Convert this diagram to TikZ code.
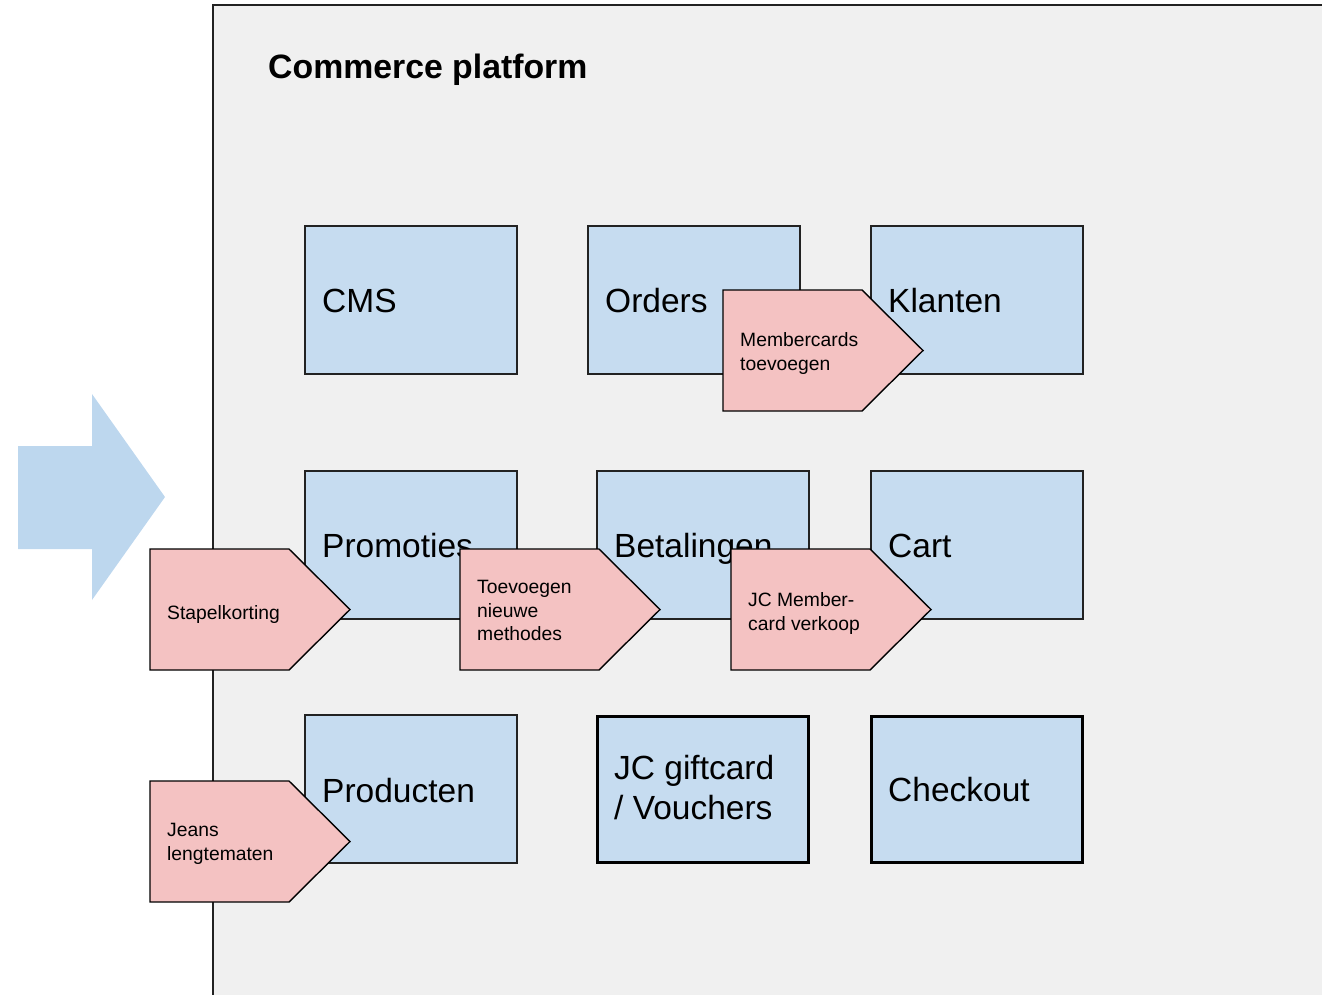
\documentclass[tikz,border=0pt]{standalone}
\usepackage{fontspec}
\setmainfont{Liberation Sans}
\definecolor{boxblue}{RGB}{198,220,240}
\definecolor{arrowblue}{RGB}{189,215,238}
\definecolor{pinkc}{RGB}{244,194,194}
\definecolor{platgray}{RGB}{240,240,240}
\definecolor{edge}{RGB}{34,34,34}
\begin{document}
\begin{tikzpicture}[x=1pt,y=-1pt,
  box/.style={draw=edge, line width=1.4pt, fill=boxblue, anchor=north west,
    minimum width=212pt, minimum height=148pt, inner sep=0pt, outer sep=0pt},
  thickbox/.style={box, draw=black, line width=3pt, minimum width=211pt, minimum height=146.5pt},
  pent/.style={draw=black, line width=1.4pt, fill=pinkc, line join=miter},
  big/.style={anchor=north west, inner sep=0pt, align=left,
    font=\fontsize{33.5}{40}\selectfont, execute at begin node=\strut},
  small/.style={anchor=north west, inner sep=0pt, align=left,
    font=\fontsize{19.3}{23.5}\selectfont, execute at begin node=\strut},
  ttl/.style={anchor=north west, inner sep=0pt,
    font=\fontsize{33.8}{38}\selectfont\bfseries, execute at begin node=\strut},
  pics/tag/.style={code={\draw[pent] (0,0) -- (139,0) -- (200,60.5) -- (139,121) -- (0,121) -- cycle;}}
]
\useasboundingbox (0,0) rectangle (1322,995);
\clip (0,0) rectangle (1322,995);

% big arrow
\fill[arrowblue] (18,446) -- (92,446) -- (92,394) -- (165,497) -- (92,600) -- (92,549) -- (18,549) -- cycle;

% platform
\fill[platgray] (213,5) rectangle (1340,1010);
\draw[line width=2pt, edge] (213,1010) -- (213,5) -- (1340,5);
\node[ttl] (title) at (268,51.5) {Commerce platform};

% boxes
\node[box] (cms) at (305,226) {};
\node[box] (orders) at (588,226) {};
\node[box] (klanten) at (871,226) {};
\node[box] (promoties) at (305,471) {};
\node[box] (betalingen) at (597,471) {};
\node[box] (cart) at (871,471) {};
\node[box] (producten) at (305,715) {};
\node[thickbox] (gift) at (597.5,716) {};
\node[thickbox] (checkout) at (871.5,716) {};

\node[big] (cmsT) at (322,284) {CMS};
\node[big] (ordersT) at (605,284) {Orders};
\node[big] (klantenT) at (888,284) {Klanten};
\node[big] (promotiesT) at (322,529) {Promoties};
\node[big] (betalingenT) at (614,529) {Betalingen};
\node[big] (cartT) at (888,529) {Cart};
\node[big] (productenT) at (322,774) {Producten};
\node[big] (giftT) at (614,755) {JC giftcard\\/ Vouchers};
\node[big] (checkoutT) at (888,773) {Checkout};

% tags
\pic at (723,290) {tag};
\pic at (150,549) {tag};
\pic at (460,549) {tag};
\pic at (731,549) {tag};
\pic at (150,781) {tag};

\node[small] (memb) at (740,332.5) {Membercards\\toevoegen};
\node[small] (stapel) at (167,603) {Stapelkorting};
\node[small] (toev) at (477,580.5) {Toevoegen\\nieuwe\\methodes};
\node[small] (jcm) at (748,592.5) {JC Member-\\card verkoop};
\node[small] (jeans) at (167,823.5) {Jeans\\lengtematen};
\end{tikzpicture}
\end{document}
